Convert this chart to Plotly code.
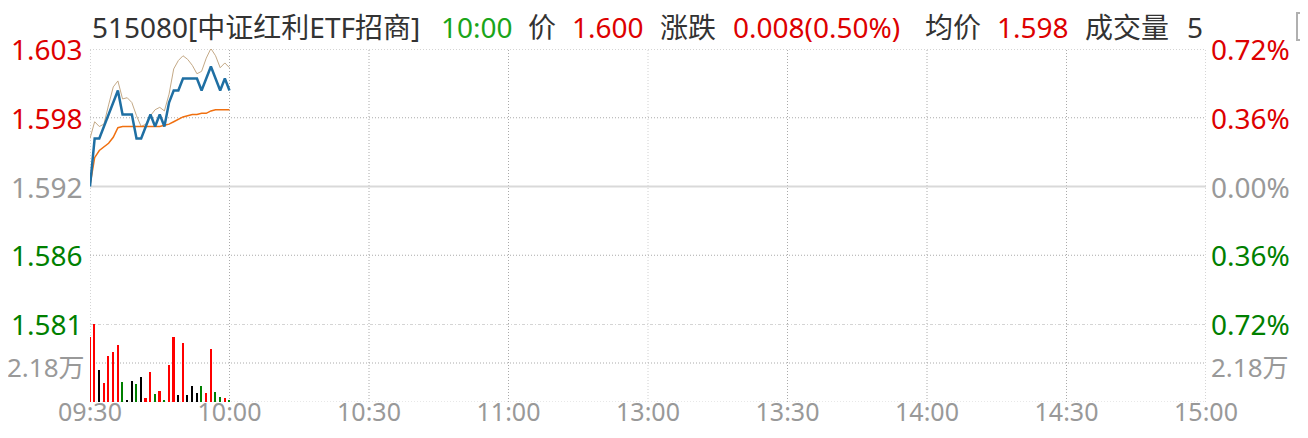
### Минутный график 515080 (中证红利ETF招商): цена, средняя цена, IOPV и объем

import plotly.graph_objs as go

### Данные (первые 30 минут торгов)

times = ["09:30", "09:31", "09:32", "09:33", "09:34", "09:35", "09:36", "09:37",
         "09:38", "09:39", "09:40", "09:41", "09:42", "09:43", "09:44", "09:45",
         "09:46", "09:47", "09:48", "09:49", "09:50", "09:51", "09:52", "09:53",
         "09:54", "09:55", "09:56", "09:57", "09:58", "09:59", "10:00"]

price = [1.592, 1.596, 1.596, 1.597, 1.598, 1.599, 1.600, 1.598, 1.598, 1.598,
         1.596, 1.596, 1.597, 1.598, 1.597, 1.598, 1.597, 1.599, 1.600, 1.600,
         1.601, 1.601, 1.601, 1.601, 1.600, 1.601, 1.602, 1.601, 1.600, 1.601, 1.600]

avg_price = [1.5921, 1.5944, 1.5950, 1.5953, 1.5956, 1.5961, 1.5969, 1.5970, 1.5970,
             1.5970, 1.5970, 1.5970, 1.5970, 1.5970, 1.5970, 1.5970, 1.5971, 1.5972,
             1.5974, 1.5976, 1.5978, 1.5979, 1.5980, 1.5980, 1.5981, 1.5981, 1.5983,
             1.5984, 1.5984, 1.5984, 1.5984]

iopv = [1.5960, 1.5974, 1.5970, 1.5972, 1.5988, 1.6003, 1.6008, 1.5993, 1.5994,
        1.5990, 1.5979, 1.5970, 1.5972, 1.5979, 1.5984, 1.5986, 1.5983, 1.5997,
        1.6018, 1.6025, 1.6029, 1.6026, 1.6021, 1.6014, 1.6016, 1.6027, 1.6035,
        1.6029, 1.6019, 1.6023, 1.6019]

# объем в 万
volume = [3.65, 4.34, 1.80, 1.08, 2.59, 2.81, 3.21, 1.11, 0.10, 1.17, 1.00, 1.40,
          0.21, 1.68, 0.44, 0.61, 0.06, 2.08, 3.61, 0.38, 3.32, 0.38, 0.89, 0.49,
          0.89, 0.49, 2.98, 0.55, 0.27, 0.21, 0.10]

pre_close = 1.592
pct_ticks = [0.72, 0.36, 0.00, -0.36, -0.72]
vol_max = 4.36
vol_tick = 2.18
time_ticks = ["09:30", "10:00", "10:30", "11:00", "13:00", "13:30", "14:00", "14:30", "15:00"]

code = "515080"
name = "中证红利ETF招商"
cur_time = "10:00"
last_price = 1.600
change = 0.008
change_pct = 0.50
avg_last = 1.598
vol_text = "5"

RED = "#dd0000"
GREEN = "#008000"
GRAY = "#999999"
DARK = "#333333"
FONT = "Noto Sans, Noto Sans CJK SC"

# область графика в пикселях страницы (у body отступ 8px)
OFF = 8
PX_L, PX_R, PX_T, PX_B = 90, 1206, 49, 402
W = PX_R - PX_L
H = PX_B - PX_T
FIG_W, FIG_H = 1308 - 2 * OFF, 438 - 2 * OFF


def px_x(px):
    return (px - PX_L) / W


def px_y(py):
    return (PX_B - py) / H


def to_min(t):
    # минуты торговой сессии от 09:30 (обеденный перерыв вырезан)
    h, m = map(int, t.split(":"))
    v = h * 60 + m - (9 * 60 + 30)
    if h >= 13:
        v -= 90
    return v


x = [to_min(t) for t in times]

# цвет столбика объема: рост - красный, падение - зеленый, без изменений - черный
bar_colors = []
for i in range(len(price)):
    if i == 0 or price[i] > price[i - 1]:
        bar_colors.append("#ff0000")
    elif price[i] < price[i - 1]:
        bar_colors.append("#008000")
    else:
        bar_colors.append("#000000")

lo = pre_close * (1 + pct_ticks[-1] / 100)
hi = pre_close * (1 + pct_ticks[0] / 100)

fig = go.Figure()

fig.add_trace(go.Bar(x=x, y=volume, width=0.36, marker=dict(color=bar_colors, line=dict(width=0)),
                     yaxis="y", hoverinfo="skip"))
fig.add_trace(go.Scatter(x=x, y=iopv, mode="lines", line=dict(color="#c4a986", width=1),
                         yaxis="y2", hoverinfo="skip"))
fig.add_trace(go.Scatter(x=x, y=avg_price, mode="lines", line=dict(color="#f07010", width=1.5),
                         yaxis="y2", hoverinfo="skip"))
fig.add_trace(go.Scatter(x=x, y=price, mode="lines", line=dict(color="#1f6fa3", width=2.5),
                         yaxis="y2", hoverinfo="skip"))

### Сетка
shapes = []
dot = "1px,2px"
for t in time_ticks:
    xv = to_min(t)
    col = "#d0d0d0" if t == "13:00" else "#aaaaaa"
    shapes.append(dict(type="line", xref="x", yref="paper", x0=xv, x1=xv, y0=0, y1=1,
                       line=dict(color=col, width=1, dash=dot), layer="below"))
for p in pct_ticks:
    yv = pre_close * (1 + p / 100)
    if p == 0:
        shapes.append(dict(type="line", xref="paper", yref="y2", x0=0, x1=1, y0=yv, y1=yv,
                           line=dict(color="#d9d9d9", width=2), layer="below"))
    elif p == pct_ticks[-1]:
        continue
    else:
        shapes.append(dict(type="line", xref="paper", yref="y2", x0=0, x1=1, y0=yv, y1=yv,
                           line=dict(color="#aaaaaa", width=1, dash=dot), layer="below"))
shapes.append(dict(type="line", xref="paper", yref="y", x0=0, x1=1, y0=vol_max, y1=vol_max,
                   line=dict(color="#aaaaaa", width=1, dash="3px,2px,1px,2px"), layer="below"))
shapes.append(dict(type="line", xref="paper", yref="y", x0=0, x1=1, y0=vol_tick, y1=vol_tick,
                   line=dict(color="#aaaaaa", width=1, dash=dot), layer="below"))
shapes.append(dict(type="line", xref="paper", yref="y", x0=0, x1=1, y0=0, y1=0,
                   line=dict(color="#d0d0d0", width=1, dash=dot), layer="below"))
# значок справа вверху (виден только край)
shapes.append(dict(type="rect", xref="paper", yref="paper", x0=px_x(1297), x1=px_x(1314),
                   y0=px_y(40), y1=px_y(13), line=dict(color="#b0b0b0", width=2)))

### Подписи осей
ann = []
for p in pct_ticks:
    yv = pre_close * (1 + p / 100)
    col = RED if p > 0 else (GREEN if p < 0 else GRAY)
    ann.append(dict(x=0, xref="paper", y=yv, yref="y2", text=f"{yv:.3f}", showarrow=False,
                    xanchor="right", yanchor="middle", xshift=-5, font=dict(size=28, color=col)))
    ann.append(dict(x=1, xref="paper", y=yv, yref="y2", text=f"{abs(p):.2f}%", showarrow=False,
                    xanchor="left", yanchor="middle", xshift=3, font=dict(size=28, color=col)))
for side, xa, sh in [(0, "right", -3), (1, "left", 3)]:
    ann.append(dict(x=side, xref="paper", y=vol_tick, yref="y", text=f"{vol_tick:.2f}万",
                    showarrow=False, xanchor=xa, yanchor="middle", xshift=sh, yshift=-4,
                    font=dict(size=26, color=GRAY)))

### Заголовок: куски текста с позициями как в оригинале
header_parts = [
    (f"{code}[{name}]", DARK, 90),
    (cur_time, "#1aa51a", 439),
    ("价", DARK, 526),
    (f"{last_price:.3f}", RED, 570),
    ("涨跌", DARK, 658),
    (f"{change:.3f}({change_pct:.2f}%)", RED, 731),
    ("均价", DARK, 923),
    (f"{avg_last:.3f}", RED, 995),
    ("成交量", DARK, 1083),
    (vol_text, DARK, 1185),
]
for txt, col, px in header_parts:
    ann.append(dict(x=px_x(px), xref="paper", y=1, yref="paper", text=txt, showarrow=False,
                    xanchor="left", yanchor="middle", yshift=22,
                    font=dict(size=28, color=col)))

fig.update_layout(
    width=FIG_W, height=FIG_H,
    margin=dict(l=PX_L - OFF, r=OFF + FIG_W - PX_R, t=PX_T - OFF, b=OFF + FIG_H - PX_B),
    paper_bgcolor="white", plot_bgcolor="white",
    font=dict(family=FONT),
    showlegend=False,
    bargap=0,
    xaxis=dict(range=[0, 240], tickvals=[to_min(t) for t in time_ticks], ticktext=time_ticks,
               showgrid=False, zeroline=False, showline=False, ticks="", automargin=False,
               ticklabelstandoff=-7,
               tickfont=dict(size=25, color=GRAY), fixedrange=True),
    yaxis=dict(domain=[0, 78 / H], range=[0, vol_max], visible=False, automargin=False,
               fixedrange=True),
    yaxis2=dict(domain=[78 / H, 1], range=[lo, hi], anchor="x", visible=False, automargin=False,
                fixedrange=True),
    shapes=shapes,
    annotations=ann,
)

fig.write_html("out.html")
